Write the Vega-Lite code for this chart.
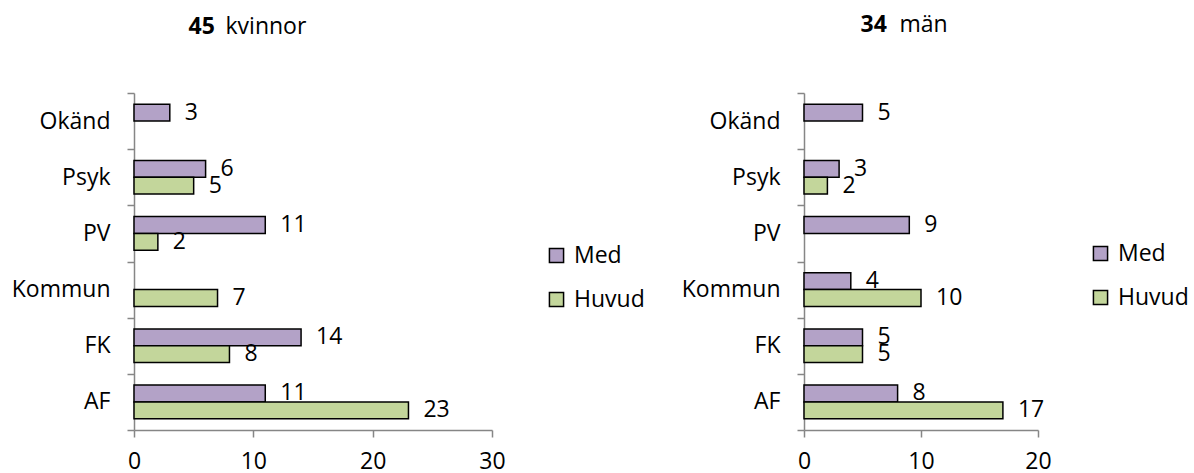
{
  "$schema": "https://vega.github.io/schema/vega-lite/v6.json",
  "padding": {"left": 11, "top": 13, "right": 0, "bottom": 0},
  "background": "white",
  "datasets": {
    "d": [
      {"panel": "k", "cat": "Okänd", "series": "Med", "value": 3},
      {"panel": "k", "cat": "Psyk", "series": "Med", "value": 6},
      {"panel": "k", "cat": "Psyk", "series": "Huvud", "value": 5},
      {"panel": "k", "cat": "PV", "series": "Med", "value": 11},
      {"panel": "k", "cat": "PV", "series": "Huvud", "value": 2},
      {"panel": "k", "cat": "Kommun", "series": "Huvud", "value": 7},
      {"panel": "k", "cat": "FK", "series": "Med", "value": 14},
      {"panel": "k", "cat": "FK", "series": "Huvud", "value": 8},
      {"panel": "k", "cat": "AF", "series": "Med", "value": 11},
      {"panel": "k", "cat": "AF", "series": "Huvud", "value": 23},
      {"panel": "m", "cat": "Okänd", "series": "Med", "value": 5},
      {"panel": "m", "cat": "Psyk", "series": "Med", "value": 3},
      {"panel": "m", "cat": "Psyk", "series": "Huvud", "value": 2},
      {"panel": "m", "cat": "PV", "series": "Med", "value": 9},
      {"panel": "m", "cat": "Kommun", "series": "Med", "value": 4},
      {"panel": "m", "cat": "Kommun", "series": "Huvud", "value": 10},
      {"panel": "m", "cat": "FK", "series": "Med", "value": 5},
      {"panel": "m", "cat": "FK", "series": "Huvud", "value": 5},
      {"panel": "m", "cat": "AF", "series": "Med", "value": 8},
      {"panel": "m", "cat": "AF", "series": "Huvud", "value": 17}
    ]
  },
  "data": {"name": "d"},
  "config": {
    "font": "Open Sans",
    "view": {"stroke": null},
    "axis": {
      "grid": false,
      "domainColor": "#868686",
      "tickColor": "#868686",
      "domainWidth": 1.5,
      "tickWidth": 1.5,
      "tickSize": 7,
      "labelFont": "Open Sans",
      "labelFontSize": 23,
      "labelColor": "black",
      "titleFont": "Open Sans",
      "titleFontSize": 23,
      "titleColor": "black"
    },
    "legend": {
      "labelFont": "Open Sans",
      "labelFontSize": 23,
      "labelColor": "black",
      "symbolType": "square",
      "symbolSize": 200,
      "symbolStrokeColor": "black",
      "symbolStrokeWidth": 1.5,
      "symbolOpacity": 1,
      "rowPadding": 20,
      "labelOffset": 6,
      "padding": 0
    }
  },
  "resolve": {"legend": {"color": "independent"}},
  "spacing": 36,
  "hconcat": [
    {
      "width": 358,
      "height": 337,
      "transform": [{"filter": "datum.panel == 'k'"}],
      "encoding": {
        "y": {
          "field": "cat", "type": "nominal",
          "sort": ["Okänd", "Psyk", "PV", "Kommun", "FK", "AF"],
          "scale": {"domain": ["Okänd", "Psyk", "PV", "Kommun", "FK", "AF"], "paddingInner": 0, "paddingOuter": 0},
          "axis": {
            "tickBand": "extent", "labelPadding": 17,
            "title": "kvinnor", "titleAngle": 0, "titleX": 91, "titleY": -60,
            "titleAlign": "left", "titleBaseline": "alphabetic", "titleFontWeight": "normal"
          }
        },
        "yOffset": {
          "field": "series", "type": "nominal",
          "scale": {"domain": ["Med", "Huvud"], "paddingInner": 0, "paddingOuter": 0.667}
        },
        "x": {
          "field": "value", "type": "quantitative",
          "scale": {"domain": [0, 30], "nice": false},
          "axis": {
            "values": [0, 10, 20, 30], "labelPadding": 13, "labelFlush": false,
            "title": "45", "titleX": 54, "titleY": -397, "titleAlign": "left",
            "titleBaseline": "alphabetic", "titleFontWeight": "bold"
          }
        }
      },
      "layer": [
        {
          "mark": {"type": "bar", "stroke": "black", "strokeWidth": 1.5},
          "encoding": {
            "color": {
              "field": "series", "type": "nominal",
              "scale": {"domain": ["Med", "Huvud"], "range": ["#B3A2C7", "#C3D69B"]},
              "legend": {"title": null, "orient": "none", "legendX": 411, "legendY": 151}
            }
          }
        },
        {
          "mark": {"type": "text", "align": "left", "baseline": "middle", "dx": 15, "fontSize": 23, "color": "black"},
          "encoding": {"text": {"field": "value", "type": "quantitative"}}
        }
      ]
    },
    {
      "width": 234,
      "height": 337,
      "transform": [{"filter": "datum.panel == 'm'"}],
      "encoding": {
        "y": {
          "field": "cat", "type": "nominal",
          "sort": ["Okänd", "Psyk", "PV", "Kommun", "FK", "AF"],
          "scale": {"domain": ["Okänd", "Psyk", "PV", "Kommun", "FK", "AF"], "paddingInner": 0, "paddingOuter": 0},
          "axis": {
            "tickBand": "extent", "labelPadding": 17,
            "title": "män", "titleAngle": 0, "titleX": 95, "titleY": -62,
            "titleAlign": "left", "titleBaseline": "alphabetic", "titleFontWeight": "normal"
          }
        },
        "yOffset": {
          "field": "series", "type": "nominal",
          "scale": {"domain": ["Med", "Huvud"], "paddingInner": 0, "paddingOuter": 0.667}
        },
        "x": {
          "field": "value", "type": "quantitative",
          "scale": {"domain": [0, 20], "nice": false},
          "axis": {
            "values": [0, 10, 20], "labelPadding": 13, "labelFlush": false,
            "title": "34", "titleX": 56, "titleY": -399, "titleAlign": "left",
            "titleBaseline": "alphabetic", "titleFontWeight": "bold"
          }
        }
      },
      "layer": [
        {
          "mark": {"type": "bar", "stroke": "black", "strokeWidth": 1.5},
          "encoding": {
            "color": {
              "field": "series", "type": "nominal",
              "scale": {"domain": ["Med", "Huvud"], "range": ["#B3A2C7", "#C3D69B"]},
              "legend": {"title": null, "orient": "none", "legendX": 285, "legendY": 149}
            }
          }
        },
        {
          "mark": {"type": "text", "align": "left", "baseline": "middle", "dx": 15, "fontSize": 23, "color": "black"},
          "encoding": {"text": {"field": "value", "type": "quantitative"}}
        }
      ]
    }
  ]
}
